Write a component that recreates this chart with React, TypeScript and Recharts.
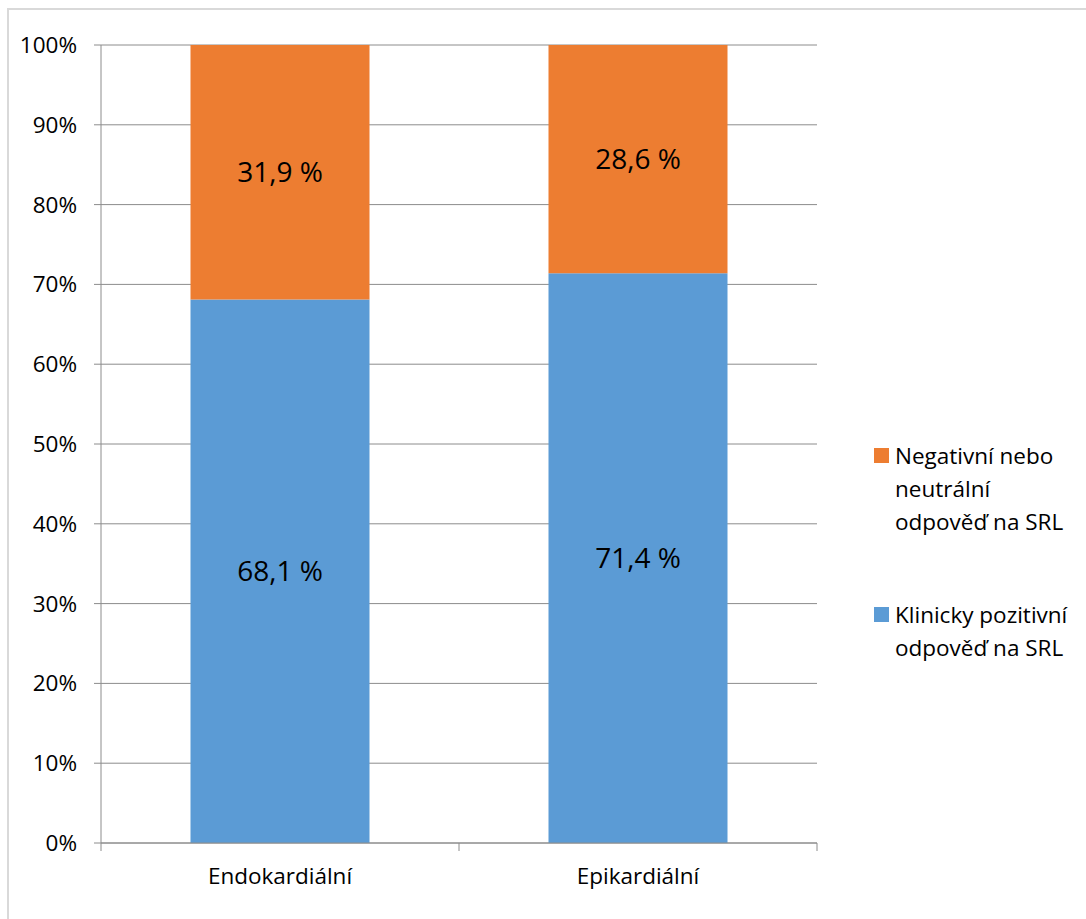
import { Bar, BarChart, CartesianGrid, LabelList, Legend, XAxis, YAxis } from "recharts";

const categories = ["Endokardiální", "Epikardiální"];
const positive = [68.1, 71.4];
const negative = [31.9, 28.6];
const yTicks = [0, 10, 20, 30, 40, 50, 60, 70, 80, 90, 100];

const seriesNames = {
  positive: "Klinicky pozitivní odpověď na SRL",
  negative: "Negativní nebo neutrální odpověď na SRL",
};

const colors = { positive: "#5B9BD5", negative: "#ED7D31" };
const axisColor = "#8c8c8c";
const font = "'Open Sans', sans-serif";
const textSize = 22.5;

const data = categories.map((name, i) => ({
  name,
  positive: positive[i],
  negative: negative[i],
}));

const fmt = (v: any) => `${Number(v).toFixed(1).replace(".", ",")} %`;

// category ticks sit on the band boundaries, not at the centre
function CategoryTick(props: any) {
  const { x, y, payload, index } = props;
  const half = payload.offset || 0;
  return (
    <g>
      <line x1={x - half} x2={x - half} y1={y - 8} y2={y} stroke={axisColor} />
      {index === categories.length - 1 && (
        <line x1={x + half} x2={x + half} y1={y - 8} y2={y} stroke={axisColor} />
      )}
      <text x={x} y={y + 17} dy="0.71em" textAnchor="middle" fill="#000" fontSize={textSize} fontFamily={font}>
        {payload.value}
      </text>
    </g>
  );
}

function LegendBox() {
  const items = [
    { key: "negative", lines: ["Negativní nebo", "neutrální", "odpověď na SRL"] },
    { key: "positive", lines: ["Klinicky pozitivní", "odpověď na SRL"] },
  ];
  return (
    <div style={{ fontFamily: font, fontSize: textSize, color: "#000", lineHeight: "33px" }}>
      {items.map((it, i) => (
        <div key={it.key} style={{ display: "flex", alignItems: "flex-start", marginTop: i ? 60 : 0 }}>
          <span
            style={{
              display: "inline-block",
              flex: "none",
              width: 15,
              height: 15,
              marginTop: 9,
              marginRight: 6,
              background: (colors as any)[it.key],
            }}
          />
          <div>
            {it.lines.map((l) => (
              <div key={l}>{l}</div>
            ))}
          </div>
        </div>
      ))}
    </div>
  );
}

export default function App() {
  return (
    <div style={{ position: "fixed", left: 0, top: 0, width: 1086, height: 919, background: "#fff", overflow: "hidden" }}>
      <div
        style={{
          position: "absolute",
          left: 7,
          top: 8,
          width: 1100,
          height: 930,
          border: "2px solid #d9d9d9",
        }}
      />
      <div style={{ position: "absolute", left: 0, top: 0 }}>
        <BarChart
          width={1086}
          height={919}
          data={data}
          margin={{ top: 45, right: 269, bottom: 0, left: 0 }}
          barCategoryGap="25%"
        >
          <CartesianGrid vertical={false} stroke={axisColor} />
          <XAxis
            dataKey="name"
            height={76}
            stroke={axisColor}
            tickLine={false}
            tick={<CategoryTick />}
            interval={0}
          />
          <YAxis
            width={101}
            domain={[0, 100]}
            ticks={yTicks}
            tickFormatter={(v) => `${v}%`}
            stroke={axisColor}
            tickSize={7}
            tickMargin={17}
            tick={{ fill: "#000", fontSize: textSize, fontFamily: font }}
          />
          <Legend
            layout="vertical"
            align="center"
            verticalAlign="middle"
            wrapperStyle={{ left: 874, top: 439, width: 212 }}
            content={<LegendBox />}
          />
          <Bar dataKey="positive" name={seriesNames.positive} stackId="a" fill={colors.positive} isAnimationActive={false}>
            <LabelList dataKey="positive" position="center" formatter={fmt} fill="#000" fontSize={28} fontFamily={font} />
          </Bar>
          <Bar dataKey="negative" name={seriesNames.negative} stackId="a" fill={colors.negative} isAnimationActive={false}>
            <LabelList dataKey="negative" position="center" formatter={fmt} fill="#000" fontSize={28} fontFamily={font} />
          </Bar>
        </BarChart>
      </div>
    </div>
  );
}
